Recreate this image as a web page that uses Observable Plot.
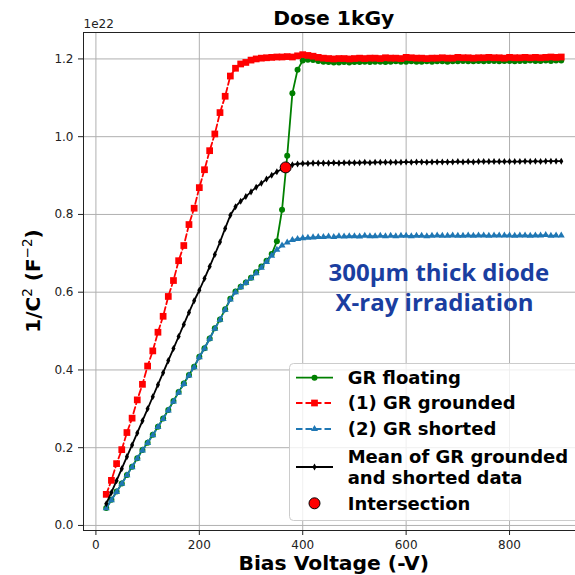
<!DOCTYPE html>
<html><head><meta charset="utf-8">
<script src="https://cdn.jsdelivr.net/npm/d3@7"></script>
<script src="https://cdn.jsdelivr.net/npm/@observablehq/plot@0.6"></script>
<style>
html,body{margin:0;padding:0;overflow:hidden;background:#fff;}
#chart{position:relative;width:575px;height:575px;overflow:hidden;}
</style></head><body><div id="chart"></div>
<script>
// Bias voltage (-V)
const voltage = [
  20,30,40,50,60,70,80,90,100,110,
  120,130,140,150,160,170,180,190,200,210,
  220,230,240,250,260,270,280,290,300,310,
  320,330,340,350,360,370,380,390,400,410,
  420,430,440,450,460,470,480,490,500,510,
  520,530,540,550,560,570,580,590,600,610,
  620,630,640,650,660,670,680,690,700,710,
  720,730,740,750,760,770,780,790,800,810,
  820,830,840,850,860,870,880,890,900
];
// 1/C^2 in units of 1e22 F^-2
const grFloating = [
  0.045,0.066,0.087,0.108,0.130,0.151,0.173,0.194,0.213,0.233,
  0.254,0.275,0.297,0.320,0.343,0.365,0.387,0.408,0.434,0.456,
  0.481,0.507,0.530,0.556,0.583,0.602,0.614,0.625,0.637,0.651,
  0.666,0.681,0.698,0.731,0.812,0.951,1.112,1.172,1.196,1.198,
  1.197,1.195,1.193,1.192,1.191,1.191,1.192,1.191,1.192,1.192,
  1.193,1.192,1.193,1.193,1.192,1.193,1.194,1.193,1.193,1.194,
  1.193,1.193,1.194,1.193,1.194,1.194,1.193,1.194,1.194,1.195,
  1.194,1.194,1.195,1.194,1.195,1.195,1.194,1.195,1.195,1.194,
  1.195,1.195,1.196,1.195,1.195,1.196,1.195,1.196,1.196
];
const grGrounded = [
  0.080,0.116,0.159,0.195,0.239,0.276,0.323,0.363,0.410,0.449,
  0.497,0.538,0.589,0.630,0.681,0.720,0.774,0.816,0.869,0.915,
  0.964,1.007,1.062,1.104,1.156,1.176,1.187,1.191,1.197,1.200,
  1.202,1.203,1.204,1.205,1.205,1.206,1.205,1.208,1.211,1.209,
  1.207,1.204,1.202,1.201,1.200,1.201,1.201,1.200,1.201,1.202,
  1.201,1.202,1.202,1.201,1.203,1.202,1.202,1.201,1.204,1.203,
  1.202,1.202,1.201,1.202,1.202,1.203,1.202,1.202,1.204,1.203,
  1.203,1.202,1.203,1.203,1.204,1.203,1.203,1.202,1.204,1.203,
  1.203,1.204,1.203,1.204,1.203,1.204,1.205,1.204,1.205
];
const grShorted = [
  0.044,0.065,0.086,0.107,0.129,0.150,0.172,0.193,0.212,0.232,
  0.253,0.274,0.296,0.319,0.342,0.364,0.386,0.407,0.433,0.455,
  0.480,0.506,0.529,0.555,0.581,0.600,0.613,0.624,0.636,0.649,
  0.663,0.678,0.694,0.709,0.720,0.728,0.734,0.737,0.739,0.740,
  0.741,0.742,0.742,0.743,0.742,0.744,0.743,0.744,0.744,0.743,
  0.745,0.744,0.744,0.745,0.744,0.745,0.744,0.745,0.745,0.744,
  0.745,0.745,0.744,0.745,0.746,0.745,0.745,0.746,0.745,0.745,
  0.746,0.745,0.746,0.746,0.745,0.746,0.746,0.746,0.746,0.745,
  0.746,0.746,0.745,0.746,0.746,0.747,0.745,0.746,0.746
];
const meanData = [
  0.056,0.085,0.115,0.146,0.177,0.207,0.238,0.269,0.300,0.331,
  0.362,0.393,0.424,0.455,0.486,0.517,0.548,0.578,0.605,0.635,
  0.666,0.697,0.729,0.764,0.798,0.820,0.834,0.846,0.858,0.870,
  0.880,0.891,0.901,0.910,0.917,0.924,0.928,0.930,0.931,0.931,
  0.932,0.932,0.932,0.932,0.933,0.932,0.933,0.933,0.933,0.933,
  0.934,0.933,0.934,0.934,0.934,0.934,0.934,0.934,0.935,0.934,
  0.935,0.935,0.934,0.935,0.935,0.935,0.935,0.935,0.936,0.935,
  0.936,0.935,0.936,0.936,0.936,0.936,0.936,0.936,0.936,0.936,
  0.936,0.937,0.936,0.937,0.936,0.937,0.937,0.937,0.937
];
const intersection = [{v: 367, c: 0.921}];
const xTicks = [0, 200, 400, 600, 800];
const yTicks = [0, 0.2, 0.4, 0.6, 0.8, 1.0, 1.2];
const seriesNames = ["GR floating", "(1) GR grounded", "(2) GR shorted", "Mean of GR grounded\nand shorted data", "Intersection"];
const titleText = "Dose 1kGy";
const xLabel = "Bias Voltage (-V)";
const exponentText = "1e22";
const annotationLines = ["300µm thick diode", "X-ray irradiation"];
const annotationAnchor = {v: 450, c: 0.630};

const xDomain = [-24, 944];
const yDomain = [-0.013, 1.268];
const xMid = (xDomain[0] + xDomain[1]) / 2;

const rows = vals => voltage.map((v, i) => ({v, c: vals[i]}));
const thinDiamond = {draw(ctx, size) {
  const s = Math.sqrt(size), h = s * 0.62, w = s * 0.36;
  ctx.moveTo(0, -h); ctx.lineTo(w, 0); ctx.lineTo(0, h); ctx.lineTo(-w, 0); ctx.closePath();
}};
const GREEN = "#008000", RED = "#ff0000", BLUE = "#1f77b4", BLACK = "#000000";
const LW = 1.8;
const R = {green: 3.0, red: 3.8, blue: 2.6, black: 3.2, cross: 5.5};

const plot = Plot.plot({
  width: 575, height: 575,
  marginLeft: 83, marginRight: -8.5, marginTop: 32, marginBottom: 45,
  x: {domain: xDomain},
  y: {domain: yDomain},
  style: {fontFamily: "DejaVu Sans", background: "white", color: "#222"},
  marks: [
    Plot.gridX(xTicks, {stroke: "#b0b0b0", strokeOpacity: 1, strokeWidth: 1}),
    Plot.gridY(yTicks, {stroke: "#b0b0b0", strokeOpacity: 1, strokeWidth: 1}),
    Plot.frame({stroke: "#222", strokeWidth: 1}),
    Plot.axisX(xTicks, {anchor: "bottom", tickSize: 5, tickPadding: 5, fontSize: 12, label: null, color: "#222"}),
    Plot.axisY(yTicks, {anchor: "left", tickSize: 5, tickPadding: 5, fontSize: 12, label: null, color: "#222", tickFormat: d => d.toFixed(1)}),
    // GR floating
    Plot.line(rows(grFloating), {x: "v", y: "c", stroke: GREEN, strokeWidth: LW}),
    Plot.dot(rows(grFloating), {x: "v", y: "c", r: R.green, fill: GREEN}),
    // GR grounded
    Plot.line(rows(grGrounded), {x: "v", y: "c", stroke: RED, strokeWidth: LW, strokeDasharray: "6.5,3"}),
    Plot.dot(rows(grGrounded), {x: "v", y: "c", r: R.red, symbol: "square", fill: RED}),
    // GR shorted
    Plot.line(rows(grShorted), {x: "v", y: "c", stroke: BLUE, strokeWidth: LW, strokeDasharray: "6.5,3"}),
    Plot.dot(rows(grShorted), {x: "v", y: "c", r: R.blue, symbol: "triangle", fill: BLUE}),
    // Mean
    Plot.line(rows(meanData), {x: "v", y: "c", stroke: BLACK, strokeWidth: LW}),
    Plot.dot(rows(meanData), {x: "v", y: "c", r: R.black, symbol: thinDiamond, fill: BLACK}),
    // Intersection
    Plot.dot(intersection, {x: "v", y: "c", r: R.cross, fill: RED, stroke: BLACK, strokeWidth: 1}),
    // annotation
    Plot.text([annotationLines[0]], {x: () => annotationAnchor.v, y: () => annotationAnchor.c, text: d => d, textAnchor: "start", lineAnchor: "bottom", fontFamily: "Open Sans", fontWeight: "bold", fontSize: 24, fill: "#1a3ea0"}),
    Plot.text([annotationLines[1]], {x: () => annotationAnchor.v, y: () => annotationAnchor.c, text: d => d, textAnchor: "start", lineAnchor: "bottom", dx: 7, dy: 30, fontFamily: "Open Sans", fontWeight: "bold", fontSize: 24, fill: "#1a3ea0"}),
    // title, exponent, x label
    Plot.text([titleText], {x: () => xMid, frameAnchor: "top", text: d => d, textAnchor: "middle", lineAnchor: "bottom", dy: -8, fontSize: 20.3, fontWeight: "bold", fill: "#000"}),
    Plot.text([exponentText], {frameAnchor: "top-left", text: d => d, textAnchor: "start", lineAnchor: "bottom", dy: -5, fontSize: 12, fill: "#222"}),
    Plot.text([xLabel], {x: () => xMid, frameAnchor: "bottom", text: d => d, textAnchor: "middle", lineAnchor: "bottom", dy: 39, fontSize: 20.3, fontWeight: "bold", fill: "#000"})
  ]
});
document.getElementById("chart").appendChild(plot);

const svg = d3.select(plot);
// y label with superscripts
const yl = svg.append("text").attr("transform", "translate(40,281) rotate(-90)")
  .attr("text-anchor", "middle").attr("font-family", "DejaVu Sans")
  .attr("font-size", 20).attr("font-weight", "bold").attr("fill", "#000");
yl.append("tspan").text("1/C");
yl.append("tspan").attr("font-size", 13.5).attr("font-weight", "normal").attr("dy", -8).text("2");
yl.append("tspan").attr("dy", 8).text(" (F");
yl.append("tspan").attr("font-size", 13.5).attr("font-weight", "normal").attr("dy", -8).text("\u22122");
yl.append("tspan").attr("dy", 8).text(")");

// legend
const lg = svg.append("g").attr("font-family", "DejaVu Sans").attr("font-weight", "bold")
  .attr("font-size", 18).attr("text-anchor", "start");
lg.append("rect").attr("x", 289.5).attr("y", 363.5).attr("width", 300).attr("height", 157).attr("rx", 4)
  .attr("fill", "white").attr("fill-opacity", 0.8).attr("stroke", "#cccccc");
const entries = [
  {y: 377.7, color: GREEN, dash: null, line: true, sym: d3.symbolCircle, size: Math.PI * R.green ** 2},
  {y: 403, color: RED, dash: "6.5,3", line: true, sym: d3.symbolSquare, size: Math.PI * R.red ** 2},
  {y: 429, color: BLUE, dash: "6.5,3", line: true, sym: d3.symbolTriangle, size: Math.PI * R.blue ** 2},
  {y: 467, color: BLACK, dash: null, line: true, sym: thinDiamond, size: Math.PI * R.black ** 2},
  {y: 503.3, color: RED, dash: null, line: false, sym: d3.symbolCircle, size: Math.PI * R.cross ** 2, stroke: BLACK}
];
entries.forEach((e, i) => {
  if (e.line) {
    const l = lg.append("line").attr("x1", 296).attr("x2", 333).attr("y1", e.y).attr("y2", e.y)
      .attr("stroke", e.color).attr("stroke-width", LW);
    if (e.dash) l.attr("stroke-dasharray", e.dash);
  }
  const p = lg.append("path").attr("d", d3.symbol().type(e.sym).size(e.size)())
    .attr("transform", `translate(314.5,${e.y})`).attr("fill", e.color);
  if (e.stroke) p.attr("stroke", e.stroke).attr("stroke-width", 1);
  const lines = seriesNames[i].split("\n");
  const t = lg.append("text").attr("x", 347.7).attr("fill", "#000").attr("text-anchor", "start");
  lines.forEach((s, j) => {
    t.append("tspan").attr("x", 347.7)
      .attr("y", e.y + (j - (lines.length - 1) / 2) * 20.5)
      .attr("dy", "0.36em").text(s);
  });
});
</script></body></html>
